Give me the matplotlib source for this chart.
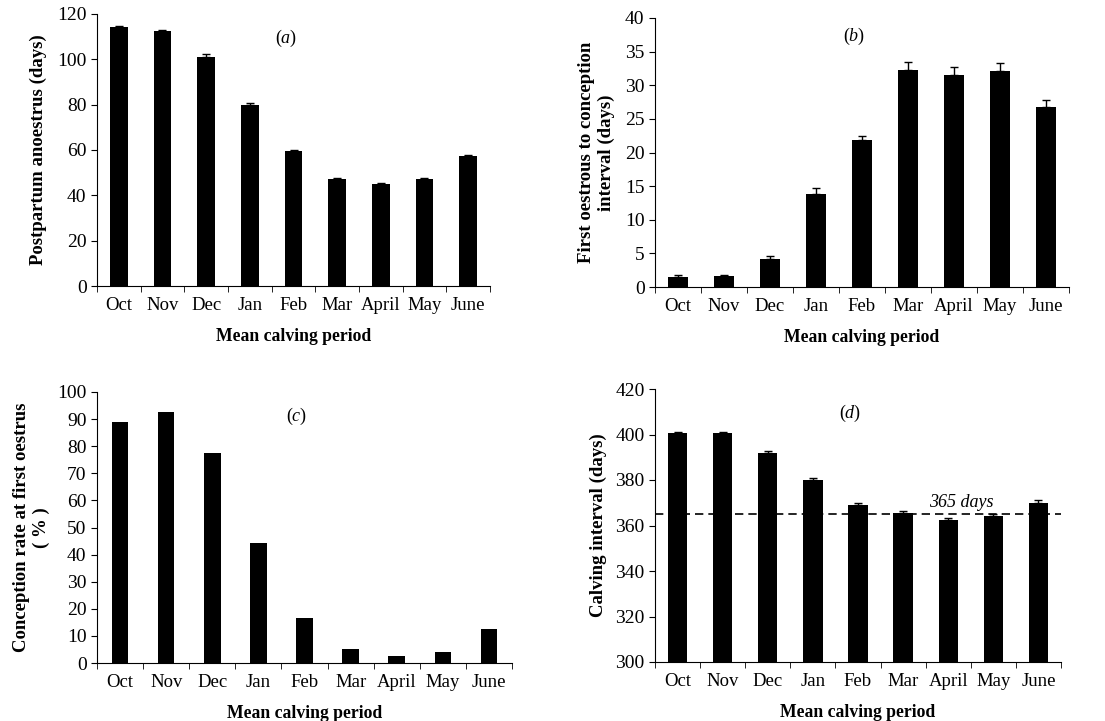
import numpy as np
import matplotlib
matplotlib.use("Agg")
import matplotlib.pyplot as plt

plt.rcParams['font.family'] = ['Liberation Serif', 'DejaVu Serif']
plt.rcParams['mathtext.fontset'] = 'custom'
plt.rcParams['mathtext.rm'] = 'Liberation Serif'
plt.rcParams['mathtext.it'] = 'Liberation Serif:italic'

months = ["Oct", "Nov", "Dec", "Jan", "Feb", "Mar", "April", "May", "June"]

# (a) postpartum anoestrus
anoestrus = [114.3, 112.5, 101.2, 79.9, 59.6, 47.3, 44.9, 47.3, 57.2]
anoestrus_err = [0.6, 0.6, 1.2, 1.0, 0.6, 0.5, 0.5, 0.5, 0.6]

# (b) first oestrus to conception interval
interval = [1.5, 1.7, 4.1, 13.9, 21.9, 32.3, 31.5, 32.1, 26.7]
interval_err = [0.35, 0.15, 0.5, 0.8, 0.55, 1.2, 1.2, 1.2, 1.1]

# (c) conception rate at first oestrus
conc_rate = [89.0, 92.6, 77.6, 44.3, 16.6, 5.2, 2.7, 4.2, 12.7]

# (d) calving interval
calving = [400.8, 400.8, 391.9, 380.0, 368.8, 365.5, 362.3, 364.3, 370.0]
calving_err = [0.4, 0.4, 1.0, 1.0, 1.0, 1.0, 1.0, 0.8, 1.0]


def style_axis(ax, ylim, yticks, ylabel, tag, labelpad=10, tag_y=0.91):
    x = np.arange(len(months))
    ax.set_xlim(-0.5, len(months) - 0.5)
    ax.set_ylim(*ylim)
    ax.set_yticks(yticks)
    ax.set_xticks(x)
    ax.set_xticklabels(months)
    ax.set_xticks(np.arange(-0.5, len(months)), minor=True)
    ax.tick_params(axis='x', which='major', length=0, labelsize=13.5, pad=8)
    ax.tick_params(axis='x', which='minor', length=4, direction='out')
    ax.tick_params(axis='y', length=4, direction='out', labelsize=14)
    ax.spines['top'].set_visible(False)
    ax.spines['right'].set_visible(False)
    ax.set_xlabel("Mean calving period", fontsize=12.7, fontweight='bold', labelpad=10)
    ax.set_ylabel(ylabel, fontsize=13.5, fontweight='bold', linespacing=1.25,
                  labelpad=labelpad)
    ax.text(0.48, tag_y, tag, transform=ax.transAxes, fontsize=13, ha='center', va='center')


fig = plt.figure(figsize=(11.05, 7.21), dpi=100)
W, H = 1105, 721

def add_ax(l, r, t, b):
    return fig.add_axes([l / W, 1 - b / H, (r - l) / W, (b - t) / H])

x = np.arange(len(months))
zeros = np.zeros(len(months))

# (a)
ax = add_ax(97, 490, 14, 286)
ax.bar(x, anoestrus, width=0.4, color='black',
       yerr=[zeros, anoestrus_err], capsize=3, error_kw=dict(ecolor='black', elinewidth=1))
style_axis(ax, (0, 120), range(0, 121, 20), "Postpartum anoestrus (days)", r"($\mathit{a}$)",
           labelpad=7)

# (b)
ax = add_ax(655, 1069, 18, 287)
ax.bar(x, interval, width=0.44, color='black',
       yerr=[zeros, interval_err], capsize=3, error_kw=dict(ecolor='black', elinewidth=1))
style_axis(ax, (0, 40), range(0, 41, 5),
           "First oestrous to conception\ninterval (days)", r"($\mathit{b}$)",
           labelpad=7, tag_y=0.93)

# (c)
ax = add_ax(97, 512, 392, 663)
ax.bar(x, conc_rate, width=0.36, color='black')
style_axis(ax, (0, 100), range(0, 101, 10),
           "Conception rate at first oestrus\n( % )", r"($\mathit{c}$)",
           labelpad=5)

# (d)
ax = add_ax(655, 1061, 389, 662)
ax.bar(x, calving, width=0.43, color='black',
       yerr=[zeros, calving_err], capsize=3, error_kw=dict(ecolor='black', elinewidth=1))
ax.axhline(365, color='black', linestyle='--', linewidth=1.2, dashes=(5, 3))
ax.text(6.3, 366.5, "365 days", fontstyle='italic', fontsize=13, ha='center', va='bottom')
style_axis(ax, (300, 420), range(300, 421, 20), "Calving interval (days)", r"($\mathit{d}$)",
           labelpad=6)

fig.savefig("out.png", dpi=100)
